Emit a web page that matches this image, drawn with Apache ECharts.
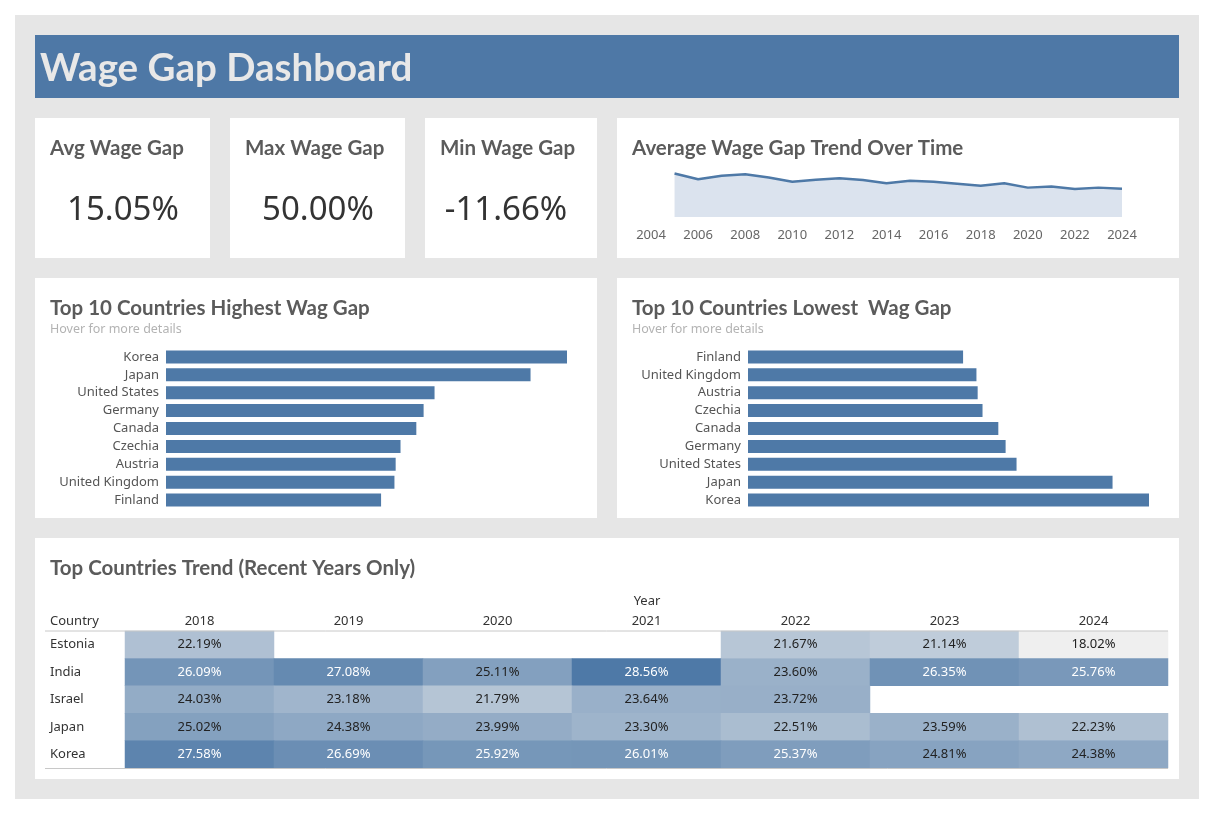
<!DOCTYPE html>
<html>
<head>
<meta charset="utf-8">
<script src="https://cdn.jsdelivr.net/npm/echarts@6/dist/echarts.min.js"></script>
<style>
html,body{margin:0;padding:0;background:#fff;}
#c{width:1216px;height:813px;}
</style>
</head>
<body>
<div id="c"></div>
<script>
// ---- data ----
const trendYears = [2005,2006,2007,2008,2009,2010,2011,2012,2013,2014,2015,2016,2017,2018,2019,2020,2021,2022,2023,2024];
const trendValues = [18.5,16.1,17.6,18.2,16.8,15.0,15.9,16.5,15.7,14.4,15.4,15.0,14.2,13.3,14.4,12.5,13.0,11.9,12.5,12.0];

const highCountries = ['Korea','Japan','United States','Germany','Canada','Czechia','Austria','United Kingdom','Finland'];
const highValues = [33.0,30.0,22.1,21.2,20.6,19.3,18.9,18.8,17.7];

const lowCountries = ['Finland','United Kingdom','Austria','Czechia','Canada','Germany','United States','Japan','Korea'];
const lowValues = [17.7,18.8,18.9,19.3,20.6,21.2,22.1,30.0,33.0];

const kpiLabels = ['Avg Wage Gap','Max Wage Gap','Min Wage Gap'];
const kpiValues = ['15.05%','50.00%','-11.66%'];

const heatYears = ['2018','2019','2020','2021','2022','2023','2024'];
const heatCountries = ['Estonia','India','Israel','Japan','Korea'];
const estonia = [22.19,null,null,null,21.67,21.14,18.02];
const india   = [26.09,27.08,25.11,28.56,23.60,26.35,25.76];
const israel  = [24.03,23.18,21.79,23.64,23.72,null,null];
const japan   = [25.02,24.38,23.99,23.30,22.51,23.59,22.23];
const korea   = [27.58,26.69,25.92,26.01,25.37,24.81,24.38];
const heatRows = [estonia,india,israel,japan,korea];

// ---- build ----
const BLUE = '#4e79a7';
const TITLE_FONT = 'Lato, "Noto Sans", sans-serif';
const BODY_FONT = '"Noto Sans", "Open Sans", sans-serif';

const heatData = [];
heatRows.forEach((row, r) => {
  row.forEach((v, c) => {
    if (v !== null) heatData.push({value:[c, r, v], label:{color: v > 25.2 ? '#ffffff' : '#222222'}});
  });
});

function card(x,y,w,h){ return {type:'rect', shape:{x:x,y:y,width:w,height:h}, style:{fill:'#ffffff'}, z:-1}; }
function titleText(x,y,t){ return {type:'text', x:x, y:y, style:{text:t, fill:'#5b5b5b', font:'bold 20.5px '+TITLE_FONT, textVerticalAlign:'middle'}}; }

const cardCenters = [123, 318, 506];
const cardLefts = [50, 245, 440];

const graphics = [
  {type:'rect', shape:{x:15,y:15,width:1184,height:784}, style:{fill:'#e6e6e6'}, z:-2},
  {type:'rect', shape:{x:35,y:35,width:1144,height:63}, style:{fill:'#4e78a6'}, z:-1},
  {type:'text', x:40, y:69, style:{text:'Wage Gap Dashboard', fill:'#e8e8e8', font:'bold 38.5px '+TITLE_FONT, textVerticalAlign:'middle'}},
  card(35,118,175,140), card(230,118,175,140), card(425,118,172,140), card(617,118,562,140),
  card(35,278,562,240), card(617,278,562,240),
  card(35,538,1144,241),
  titleText(632,148,'Average Wage Gap Trend Over Time'),
  titleText(50,308,'Top 10 Countries Highest Wag Gap'),
  titleText(632,308,'Top 10 Countries Lowest  Wag Gap'),
  {type:'text', x:50, y:329, style:{text:'Hover for more details', fill:'#b3b3b3', font:'12.5px '+BODY_FONT, textVerticalAlign:'middle'}},
  {type:'text', x:632, y:329, style:{text:'Hover for more details', fill:'#b3b3b3', font:'12.5px '+BODY_FONT, textVerticalAlign:'middle'}},
  titleText(50,568,'Top Countries Trend (Recent Years Only)'),
  {type:'text', x:50, y:621, style:{text:'Country', fill:'#333', font:'13px '+BODY_FONT, textVerticalAlign:'middle'}},
  {type:'text', x:647, y:601, style:{text:'Year', fill:'#333', font:'13px '+BODY_FONT, textVerticalAlign:'middle', textAlign:'center'}},
  {type:'line', shape:{x1:45,y1:631,x2:1168,y2:631}, style:{stroke:'#c8c8c8', lineWidth:1}, z:10},
  {type:'line', shape:{x1:45,y1:768.5,x2:1168,y2:768.5}, style:{stroke:'#c8c8c8', lineWidth:1}, z:10}
];
kpiLabels.forEach((l,i)=>{
  graphics.push(titleText(cardLefts[i],148,l));
  graphics.push({type:'text', x:cardCenters[i], y:211, style:{text:kpiValues[i], fill:'#333', font:'33px '+BODY_FONT, textAlign:'center', textVerticalAlign:'middle'}});
});

const option = {
  backgroundColor:'#ffffff',
  animation:false,
  graphic: graphics,
  grid:[
    {left:651, right:94, top:170, bottom:596},
    {left:166, width:401, top:348, height:161},
    {left:748, width:401, top:348, height:161},
    {left:125, width:1043, top:631, height:137}
  ],
  xAxis:[
    {gridIndex:0, type:'value', min:2004, max:2024, interval:2,
     axisLabel:{color:'#666', fontSize:13, fontFamily:BODY_FONT, margin:12, formatter:v=>String(v)},
     axisLine:{show:false}, axisTick:{show:false}, splitLine:{show:false}},
    {gridIndex:1, type:'value', min:0, max:33, show:false},
    {gridIndex:2, type:'value', min:0, max:33, show:false},
    {gridIndex:3, type:'category', data:heatYears, position:'top',
     axisLabel:{color:'#333', fontSize:13, fontFamily:BODY_FONT, margin:3},
     axisLine:{show:false}, axisTick:{show:false}, splitLine:{show:false}}
  ],
  yAxis:[
    {gridIndex:0, type:'value', min:0, max:20, show:false},
    {gridIndex:1, type:'category', data:highCountries, inverse:true,
     axisLabel:{color:'#555', fontSize:13, fontFamily:BODY_FONT, margin:7, padding:[2,0,0,0]},
     axisLine:{show:false}, axisTick:{show:false}},
    {gridIndex:2, type:'category', data:lowCountries, inverse:true,
     axisLabel:{color:'#555', fontSize:13, fontFamily:BODY_FONT, margin:7, padding:[2,0,0,0]},
     axisLine:{show:false}, axisTick:{show:false}},
    {gridIndex:3, type:'category', data:heatCountries, inverse:true,
     axisLabel:{color:'#333', fontSize:13, fontFamily:BODY_FONT, margin:75, align:'left', padding:[2,0,0,0]},
     axisLine:{show:false}, axisTick:{show:false}, splitLine:{show:false}}
  ],
  visualMap:{show:false, seriesIndex:3, min:18.02, max:28.56, inRange:{color:['#efefef','#4e79a7']}},
  series:[
    {type:'line', xAxisIndex:0, yAxisIndex:0, data:trendYears.map((y,i)=>[y,trendValues[i]]),
     symbol:'none', lineStyle:{color:BLUE, width:2.5}, itemStyle:{color:BLUE},
     areaStyle:{color:'#dbe3ee', opacity:1}},
    {type:'bar', xAxisIndex:1, yAxisIndex:1, data:highValues, barWidth:13, itemStyle:{color:BLUE}},
    {type:'bar', xAxisIndex:2, yAxisIndex:2, data:lowValues, barWidth:13, itemStyle:{color:BLUE}},
    {type:'heatmap', xAxisIndex:3, yAxisIndex:3, data:heatData,
     label:{show:true, fontSize:13, fontFamily:BODY_FONT, padding:[2,0,0,0], formatter:p=>p.value[2].toFixed(2)+'%'},
     itemStyle:{borderWidth:0}}
  ]
};
const chart = echarts.init(document.getElementById('c'), null, {renderer:'canvas'});
chart.setOption(option);
</script>
</body>
</html>
